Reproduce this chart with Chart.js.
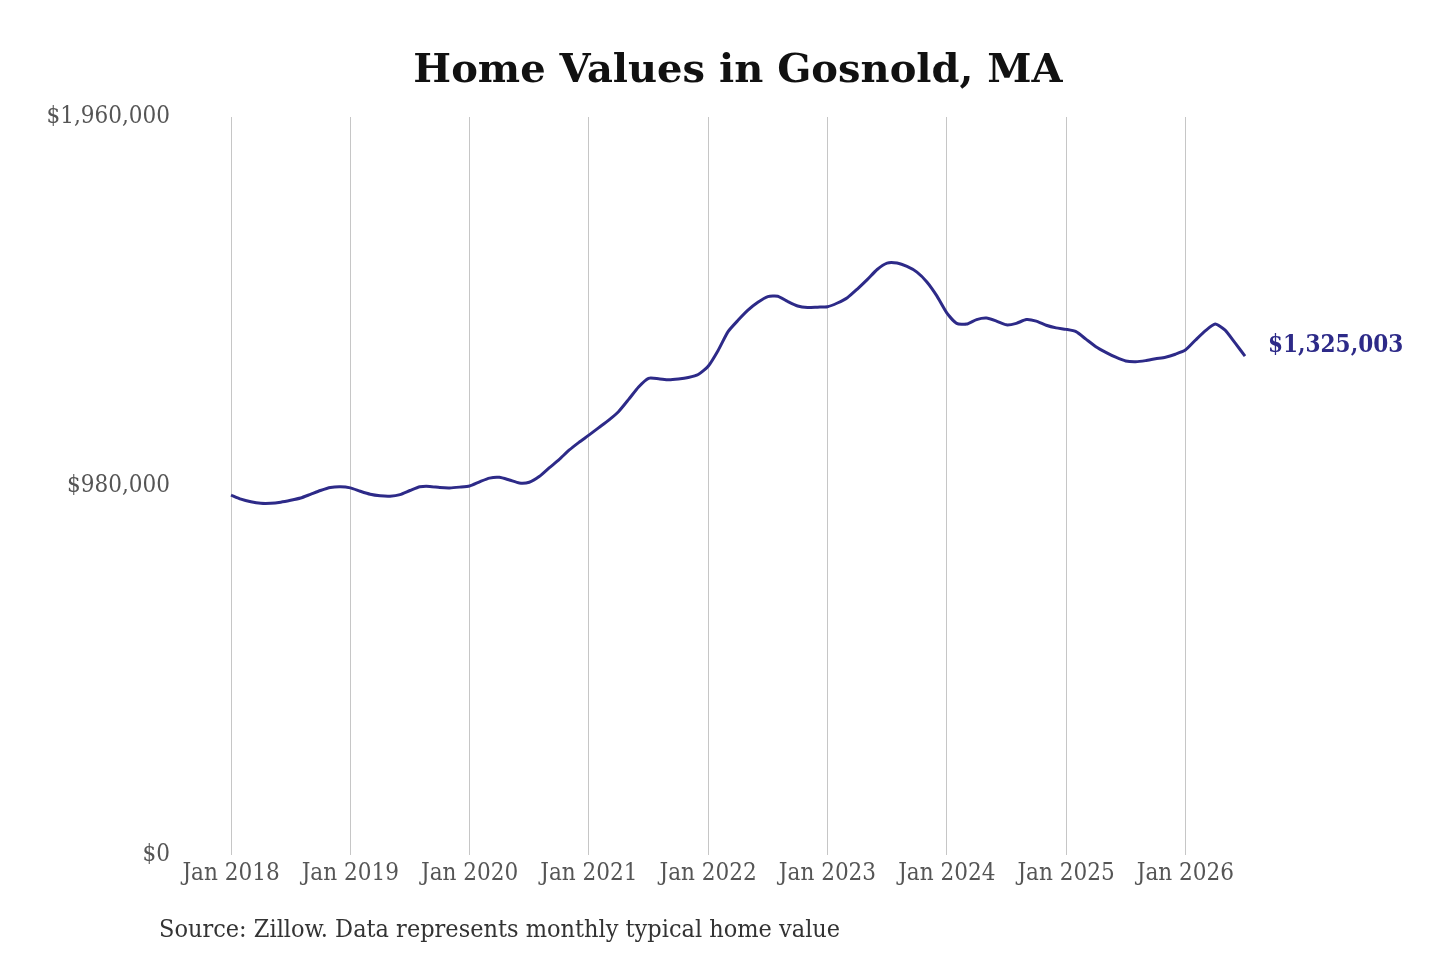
<!DOCTYPE html>
<html>
<head>
<meta charset="utf-8">
<script src="https://cdn.jsdelivr.net/npm/chart.js@4.4.1/dist/chart.umd.min.js"></script>
<style>
    body { margin: 0; background: #fff; }
    #wrap { position: relative; width: 1440px; height: 960px; }
    #title {
        position: absolute; left: 0; top: 44px; width: 1476px; text-align: center;
        font-family: "DejaVu Serif", serif; font-weight: bold; font-size: 40px; color: #111;
    }
    #source {
        position: absolute; left: 159px; top: 914px;
        font-family: "DejaVu Serif Condensed", "DejaVu Serif", serif; font-size: 25px; color: #333;
    }
</style>
</head>
<body>
<div id="wrap">
    <canvas id="lineChart" width="1440" height="960"></canvas>
    <div id="title">Home Values in Gosnold, MA</div>
    <div id="source">Source: Zillow. Data represents monthly typical home value</div>
</div>
<script>
// monthly values, Jan 2018 .. Jul 2026
const startYear = 2018
const homeValues = [
    956000, 945000, 938000, 934000, 934000, 937000, 942000, 948000, 958000, 968000, 976000, 978000,
    975000, 966000, 958000, 954000, 953000, 957000, 968000, 978000, 979000, 976000, 975000, 977000,
    980000, 991000, 1001000, 1003000, 996000, 988000, 990000, 1005000, 1028000, 1050000, 1075000, 1096000,
    1115000, 1135000, 1155000, 1178000, 1210000, 1243000, 1266000, 1265000, 1262000, 1264000, 1268000, 1276000,
    1298000, 1340000, 1390000, 1420000, 1447000, 1468000, 1483000, 1484000, 1470000, 1458000, 1454000, 1455000,
    1456000, 1466000, 1480000, 1503000, 1528000, 1555000, 1572000, 1572000, 1563000, 1548000, 1522000, 1485000,
    1440000, 1412000, 1410000, 1422000, 1426000, 1418000, 1408000, 1412000, 1422000, 1418000, 1407000, 1400000,
    1396000, 1390000, 1370000, 1350000, 1335000, 1322000, 1312000, 1310000, 1313000, 1318000, 1322000, 1330000,
    1341000, 1367000, 1392000, 1410000, 1394000, 1360000, 1325003
]
const monthNames = ["Jan", "Feb", "Mar", "Apr", "May", "Jun", "Jul", "Aug", "Sep", "Oct", "Nov", "Dec"]
const monthLabels = homeValues.map((v, i) => monthNames[i % 12] + " " + (startYear + Math.floor(i / 12)))
const yTicks = [0, 980000, 1960000]

const lineColor = "#2d2a88"
const tickFont = { family: "'DejaVu Serif Condensed', 'DejaVu Serif', serif", size: 24 }

function money(v) {
    return "$" + Math.round(v).toLocaleString("en-US")
}

const endLabel = {
    id: "endLabel",
    afterDatasetsDraw(chart) {
        const pts = chart.getDatasetMeta(0).data
        const last = pts[pts.length - 1]
        const ctx = chart.ctx
        ctx.save()
        ctx.font = "bold 24px 'DejaVu Serif Condensed', 'DejaVu Serif', serif"
        ctx.fillStyle = lineColor
        ctx.textBaseline = "middle"
        ctx.fillText(money(homeValues[homeValues.length - 1]), last.x + 23, last.y - 10)
        ctx.restore()
    }
}

new Chart(document.getElementById("lineChart").getContext("2d"), {
    type: "line",
    data: {
        labels: monthLabels,
        datasets: [{
            data: homeValues,
            borderColor: lineColor,
            borderWidth: 3,
            pointRadius: 0,
            tension: 0.2,
            fill: false
        }]
    },
    options: {
        responsive: false,
        animation: false,
        layout: { padding: { top: 117, right: 195, left: 0, bottom: 0 } },
        plugins: { legend: { display: false }, tooltip: { enabled: false } },
        scales: {
            x: {
                offset: false,
                border: { display: false },
                grid: { color: "#c6c6c6", lineWidth: 1, drawTicks: false },
                ticks: {
                    autoSkip: false,
                    maxRotation: 0,
                    padding: 4,
                    color: "#555",
                    font: tickFont,
                    callback: function(val, i) {
                        return i % 12 === 0 ? monthLabels[i] : null
                    }
                },
                afterFit: function(scale) { scale.height = 105 }
            },
            y: {
                min: 0,
                max: 1960000,
                border: { display: false },
                grid: { display: false, drawTicks: false },
                afterBuildTicks: function(scale) { scale.ticks = yTicks.map(v => ({ value: v })) },
                ticks: {
                    padding: 61,
                    color: "#555",
                    font: tickFont,
                    callback: v => money(v)
                },
                afterFit: function(scale) { scale.width = 231 }
            }
        }
    },
    plugins: [endLabel]
})
</script>
</body>
</html>
